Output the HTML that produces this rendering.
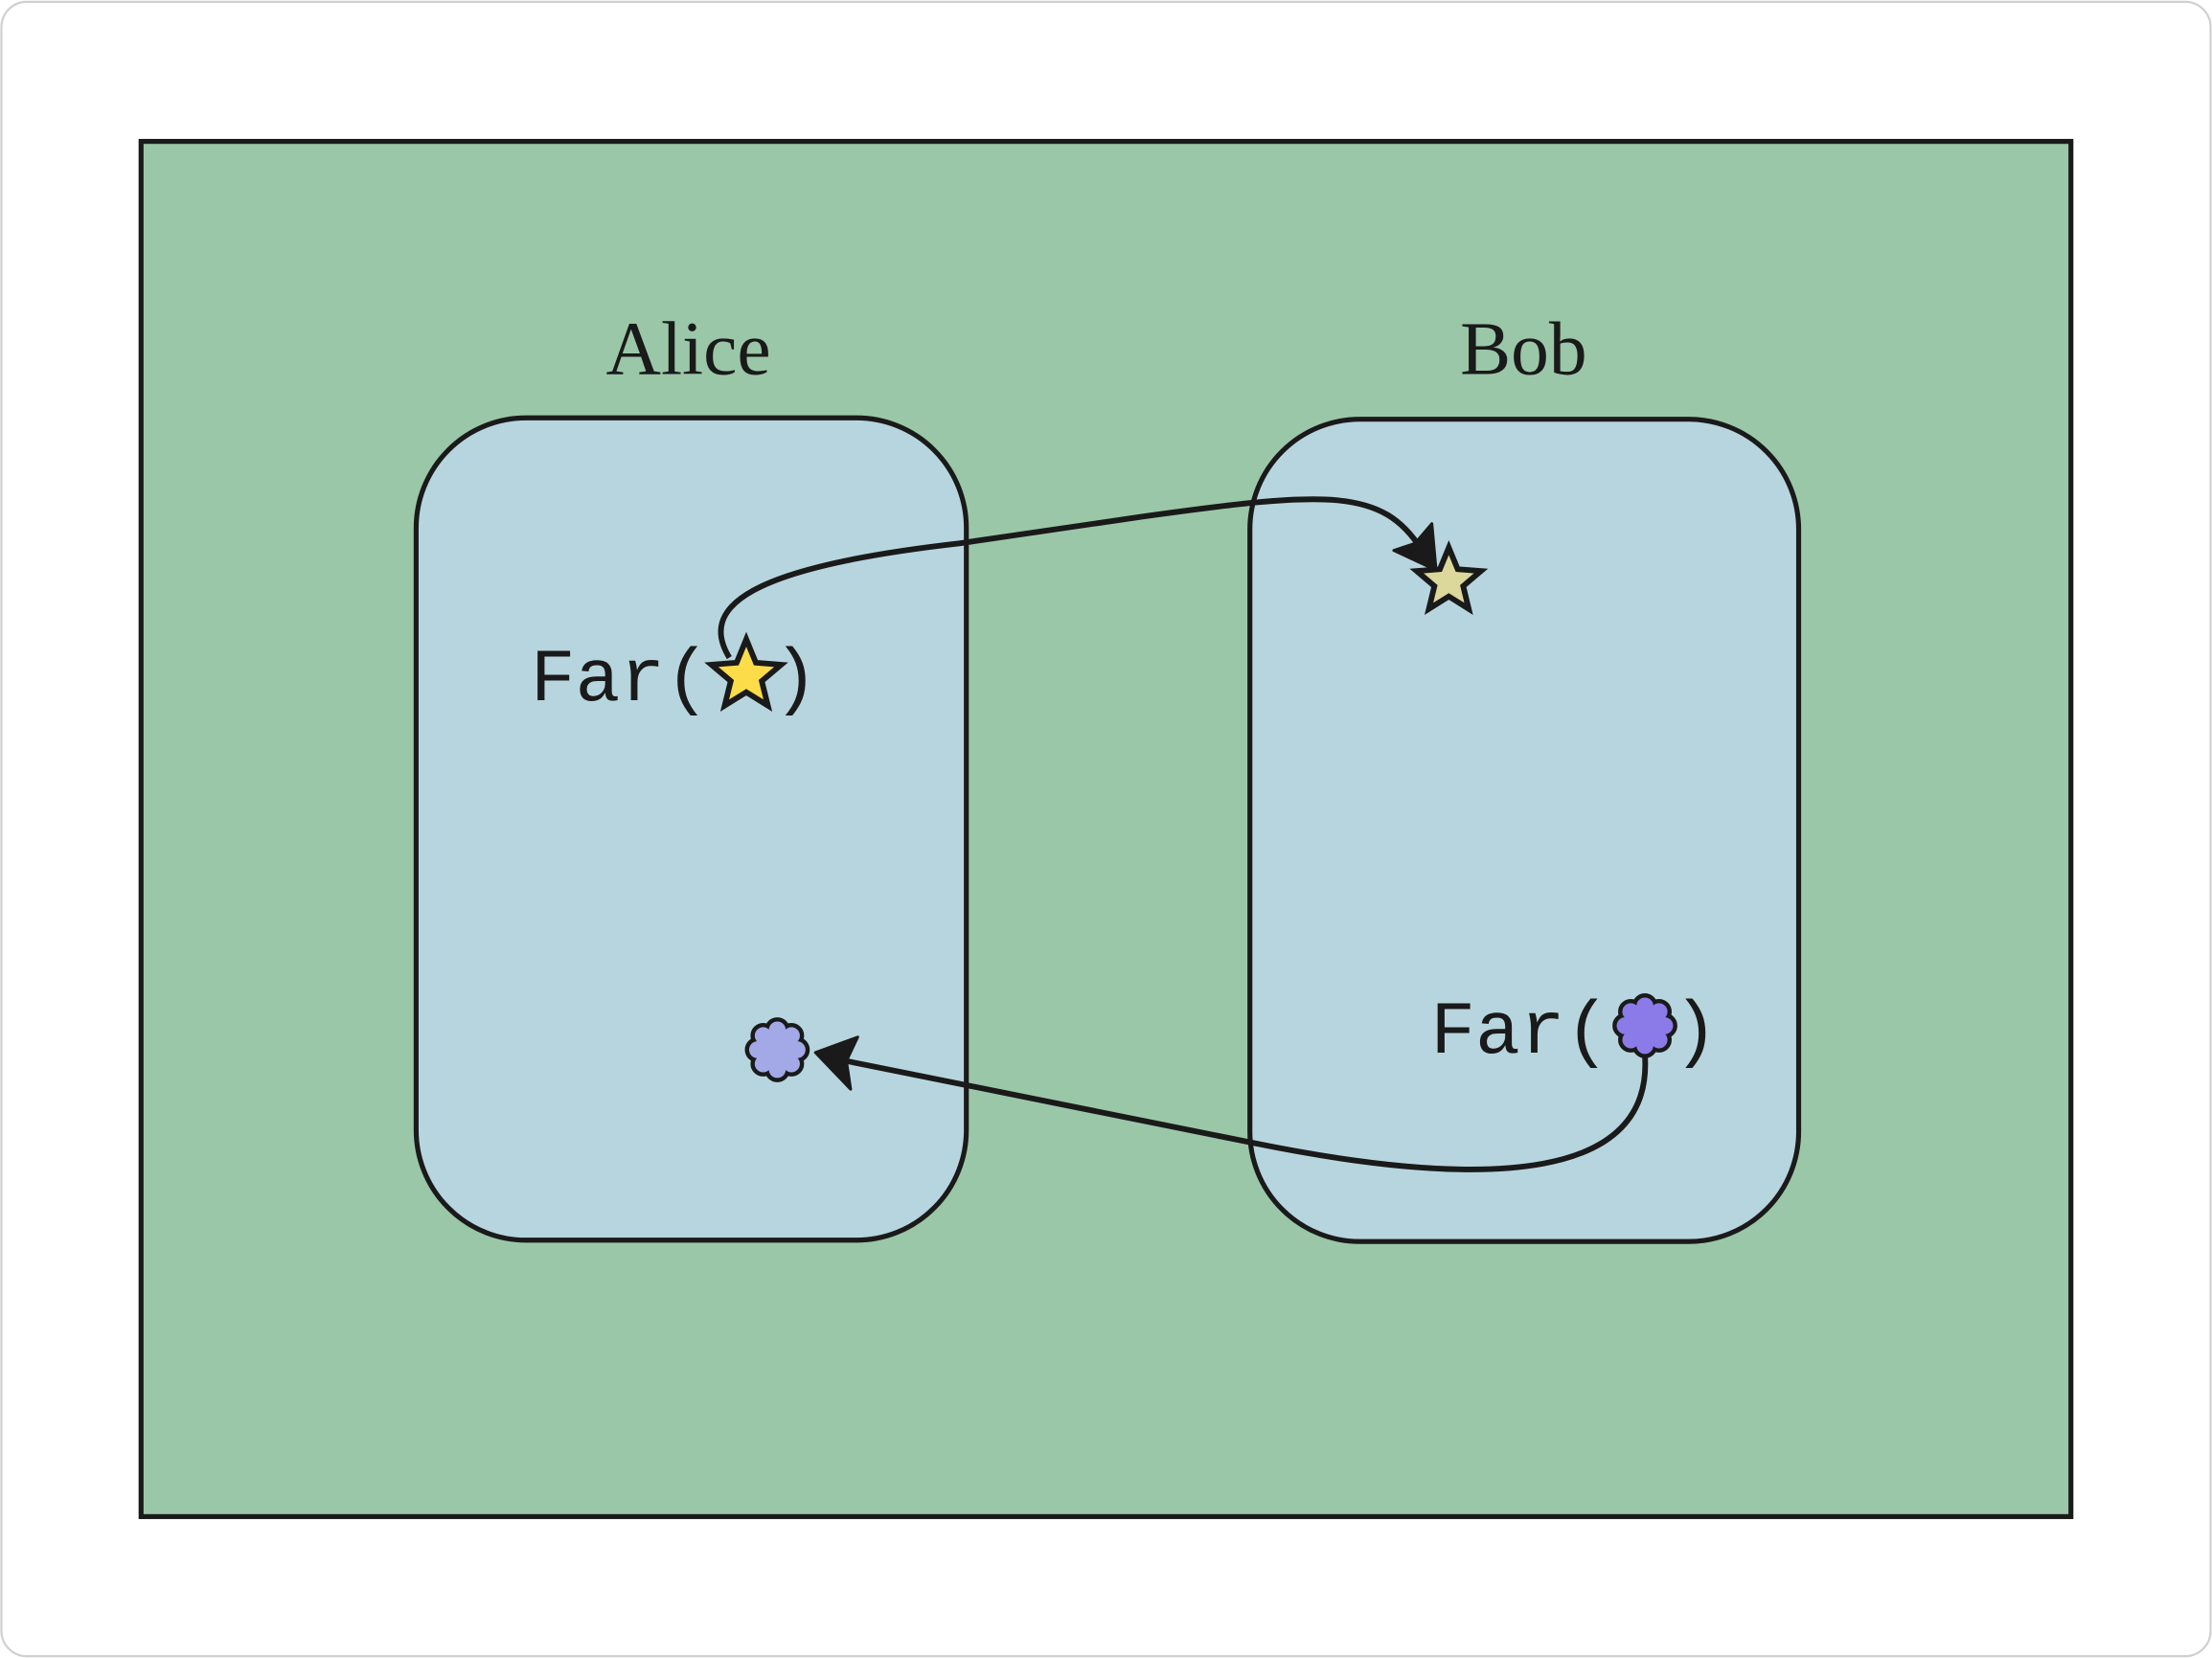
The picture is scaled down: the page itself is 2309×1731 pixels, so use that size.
<!DOCTYPE html>
<html><head><meta charset="utf-8"><style>html,body{margin:0;padding:0;background:#fff}svg{display:block}</style></head>
<body>
<svg width="2309" height="1731" viewBox="0 0 1568 1175" xmlns="http://www.w3.org/2000/svg">
<defs>
<g id="cloud">
<circle cx="0" cy="-14" r="6"/><circle cx="10" cy="-10" r="6"/><circle cx="14" cy="0" r="6"/><circle cx="10" cy="10" r="6"/>
<circle cx="0" cy="14" r="6"/><circle cx="-10" cy="10" r="6"/><circle cx="-14" cy="0" r="6"/><circle cx="-10" cy="-10" r="6"/>
<circle cx="0" cy="0" r="13"/>
</g>
</defs>
<rect x="1" y="1" width="1566" height="1173" rx="18" fill="#fff" stroke="#d0d0d0" stroke-width="1.5"/>
<rect x="100" y="100" width="1368" height="975" fill="#9ac7a8" stroke="#1a1a1a" stroke-width="3.5"/>
<rect x="295" y="296" width="390" height="583" rx="78" fill="#b7d5de" stroke="#1a1a1a" stroke-width="3.5"/>
<rect x="886" y="297" width="389" height="583" rx="78" fill="#b7d5de" stroke="#1a1a1a" stroke-width="3.5"/>
<text x="488" y="265" text-anchor="middle" style="font-family:'Liberation Serif',serif;font-size:54px" fill="#1a1a1a">Alice</text>
<text x="1080" y="265" text-anchor="middle" style="font-family:'Liberation Serif',serif;font-size:54px" fill="#1a1a1a">Bob</text>

<path d="M517,466 C495,430 530,402 680,385 L810,366 C940,348 980,345 1008,390" fill="none" stroke="#1a1a1a" stroke-width="4"/>
<polygon points="1018,404 988,390 1003,385 1015,371" fill="#1a1a1a" stroke="#1a1a1a" stroke-width="2" stroke-linejoin="round"/>
<path d="M1166,748 C1172,835 1060,845 888,810 L600,752" fill="none" stroke="#1a1a1a" stroke-width="4"/>
<polygon points="578,746 608,735 600,752 603,772" fill="#1a1a1a" stroke="#1a1a1a" stroke-width="2" stroke-linejoin="round"/>

<text x="376" y="496" style="font-family:'Liberation Mono',monospace;font-size:53px" fill="#1a1a1a">Far(</text>
<polygon transform="translate(529,479)" points="0,-26 6.8,-9.4 24.7,-8 11,3.6 15.3,21 0,11.5 -15.3,21 -11,3.6 -24.7,-8 -6.8,-9.4" fill="#fddc4a" stroke="#1a1a1a" stroke-width="4"/>
<text x="548" y="496" style="font-family:'Liberation Mono',monospace;font-size:53px" fill="#1a1a1a">)</text>
<polygon transform="translate(1027,412)" points="0,-24 6.3,-8.7 22.8,-7.4 10.2,3.3 14.1,19.4 0,10.6 -14.1,19.4 -10.2,3.3 -22.8,-7.4 -6.3,-8.7" fill="#dcd89c" stroke="#1a1a1a" stroke-width="4"/>

<text x="1014" y="746" style="font-family:'Liberation Mono',monospace;font-size:53px" fill="#1a1a1a">Far(</text>
<g transform="translate(1166,727)">
<use href="#cloud" fill="#1a1a1a" stroke="#1a1a1a" stroke-width="6"/>
<use href="#cloud" fill="#8b7be8"/>
</g>
<text x="1186" y="746" style="font-family:'Liberation Mono',monospace;font-size:53px" fill="#1a1a1a">)</text>
<g transform="translate(551,744)">
<use href="#cloud" fill="#1a1a1a" stroke="#1a1a1a" stroke-width="6"/>
<use href="#cloud" fill="#a3a8e6"/>
</g>
</svg>
</body></html>
